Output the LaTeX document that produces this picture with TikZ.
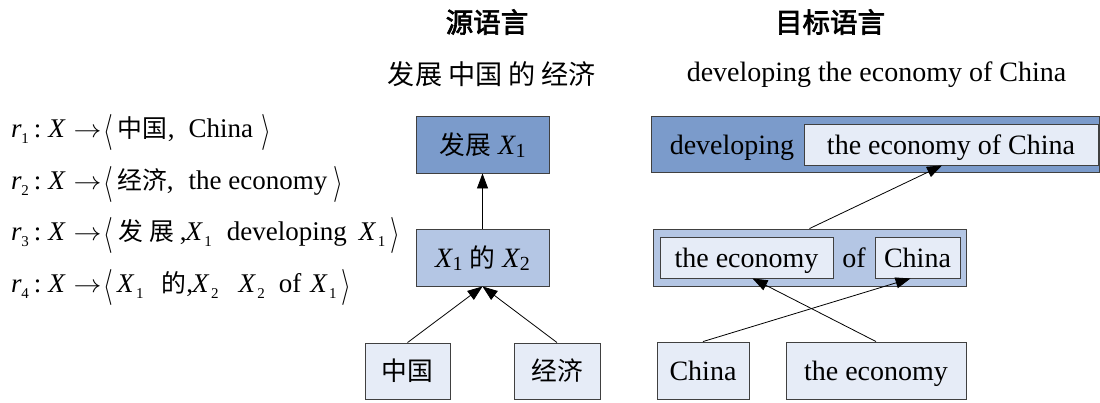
\documentclass[tikz,border=0pt]{standalone}
\usepackage{graphicx}
\usepackage{fontspec}
\setmainfont{Liberation Serif}
\newfontfamily\cjk[Scale=0.92]{Noto Sans CJK SC}
\newfontfamily\cjkb[FakeBold=2.5]{Noto Sans CJK SC}
\usetikzlibrary{arrows.meta}
\definecolor{dblue}{HTML}{7B9BCB}
\definecolor{mblue}{HTML}{B4C6E4}
\definecolor{lblue}{HTML}{E6ECF7}
\definecolor{edgec}{HTML}{404040}
\newcommand\Xs[1]{\textit{X}\kern-0.5pt\raisebox{-0.25ex}{\fontsize{20}{20}\selectfont #1}}
\newcommand\rs[1]{\raisebox{-0.5ex}{\fontsize{15}{15}\selectfont #1}}
\newcommand\Xr[1]{\textit{X}\kern1.5pt\rs{#1}}
\newcommand\lang{\raisebox{-4pt}{\scalebox{1}[1.45]{$\langle$}}}
\newcommand\rang{\raisebox{-4pt}{\scalebox{1}[1.45]{$\rangle$}}}
\newcommand\rl[1]{\textit{r}\kern-0.5pt\rs{#1}\kern5pt:\kern7pt\textit{X}\kern8pt\scalebox{1.12}[1]{$\rightarrow$}\kern2pt\lang}
\begin{document}
\begin{tikzpicture}[x=1pt,y=-1pt,
  every node/.style={font=\fontsize{28}{32}\selectfont},
  box/.style={draw=edgec, line width=0.9pt, inner sep=0pt, text height=24pt, text depth=5pt},
  lbl/.style={text height=24pt, text depth=5pt, inner sep=0pt},
  rule/.style={anchor=base west, inner sep=0pt, font=\fontsize{27}{32}\selectfont},
  arr/.style={-{Triangle[length=15pt,width=11pt]}, line width=0.8pt},
  cjkfont/.style={font=\fontsize{29.5}{32}\selectfont\cjk},
  headfont/.style={font=\fontsize{27.5}{30}\selectfont\cjkb}]
\useasboundingbox (0,0) rectangle (1100,402);
% headings
\node[headfont] (h1) at (487,22) {源语言};
\node[headfont] (h2) at (830,22) {目标语言};
\node[cjkfont] (src) at (492,74) {发展 中国 的 经济};
\node (tgt) at (876.5,75) {developing the economy of China};
% rules
\node[rule] (r1) at (11,137) {\rl{1}\kern4pt{\cjk 中\kern0pt 国}\kern1pt,\kern14pt China\kern8pt\rang};
\node[rule] (r2) at (11,189) {\rl{2}\kern4pt{\cjk 经济},\kern15pt the economy\kern6pt\rang};
\node[rule] (r3) at (11,240) {\rl{3}\kern5pt{\cjk 发\kern6pt 展}\kern6pt,\kern-1pt\Xr{1}\kern15pt developing\kern12pt\Xr{1}\kern5pt\rang};
\node[rule] (r4) at (11,292) {\rl{4}\kern4pt\Xr{1}\kern18pt{\cjk 的},\kern-1pt\Xr{2}\kern20pt\Xr{2}\kern14pt of\kern9pt\Xr{1}\kern5pt\rang};
% source tree
\node[box, fill=dblue, minimum width=133pt, minimum height=57pt] (s1) at (482.5,144.5) {{\cjk 发展} \Xs{1}};
\node[box, fill=mblue, minimum width=133pt, minimum height=57pt] (s2) at (482.5,257.5) {\Xs{1} {\cjk 的} \Xs{2}};
\node[box, fill=lblue, minimum width=85pt, minimum height=56pt] (s3) at (407.5,371) {\cjk 中国};
\node[box, fill=lblue, minimum width=86pt, minimum height=56pt] (s4) at (557,371) {\cjk 经济};
\draw[arr] (s2.north) -- (s1.south);
\draw[arr] (s3.north) -- (s2.south);
\draw[arr] (s4.north) -- (s2.south);
% target tree
\node[box, fill=dblue, minimum width=448pt, minimum height=56pt] (t1) at (875,144) {};
\node[lbl] (dev) at (732,144.5) {developing};
\node[box, fill=lblue, minimum width=294pt, minimum height=41pt] (t1in) at (951,144.5) {the economy of China};
\node[box, fill=mblue, minimum width=313pt, minimum height=57pt] (t2) at (809.5,257.5) {};
\node[box, fill=lblue, minimum width=173pt, minimum height=41pt] (t2a) at (746.5,257.5) {the economy};
\node[lbl] (of) at (854,257.5) {of};
\node[box, fill=lblue, minimum width=85pt, minimum height=41pt] (t2b) at (917.5,257.5) {China};
\node[box, fill=lblue, minimum width=92pt, minimum height=57pt] (t3) at (703,370.5) {China};
\node[box, fill=lblue, minimum width=180pt, minimum height=57pt] (t4) at (876,370.5) {the economy};
\draw[arr] (t2.north) -- ([xshift=-9pt]t1in.south);
\draw[arr] (t3.north) -- ([xshift=-7pt]t2b.south);
\draw[arr] (t4.north) -- ([xshift=6pt]t2a.south);
\end{tikzpicture}
\end{document}
